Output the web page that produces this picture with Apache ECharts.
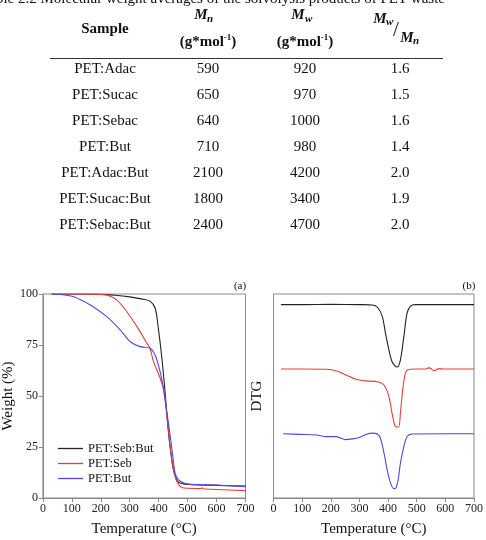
<!DOCTYPE html>
<html>
<head>
<meta charset="utf-8">
<script src="https://cdn.jsdelivr.net/npm/echarts@6/dist/echarts.min.js"></script>
<style>
html,body{margin:0;padding:0;background:#fff;}
#main{width:486px;height:540px;}
</style>
</head>
<body>
<div id="main"></div>
<script>
// table values
var tableTitle = 'Table 2.2 Molecular weight averages of the solvolysis products of PET waste';
var sampleNames = ['PET:Adac', 'PET:Sucac', 'PET:Sebac', 'PET:But', 'PET:Adac:But', 'PET:Sucac:But', 'PET:Sebac:But'];
var mnValues = ['590', '650', '640', '710', '2100', '1800', '2400'];
var mwValues = ['920', '970', '1000', '980', '4200', '3400', '4700'];
var pdiValues = ['1.6', '1.5', '1.6', '1.4', '2.0', '1.9', '2.0'];

// TGA (a)
var tgaNames = ['PET:Seb:But', 'PET:Seb', 'PET:But'];
var tgaSebButT = [30, 100, 150, 200, 250, 300, 340, 370, 388, 399, 411, 422, 432, 442, 452, 462, 472, 490, 520, 600, 700];
var tgaSebButW = [100, 100, 100, 99.8, 99.4, 98.6, 97.6, 96.5, 93, 83, 68.6, 52, 35, 22, 13, 9, 7.5, 6.8, 6.5, 6.2, 5.8];
var tgaSebT = [30, 100, 150, 200, 221, 256, 290, 325, 359, 370, 382, 405, 419, 430, 440, 450, 460, 470, 480, 500, 545, 550, 555, 600, 700];
var tgaSebW = [100, 100, 100, 99.8, 99.5, 97, 91.3, 84, 76, 73.4, 67, 58.8, 52, 38, 25, 15, 9, 6.4, 5.2, 4.8, 4.6, 5, 4.5, 4.2, 3.6];
var tgaButT = [30, 60, 107, 164, 221, 267, 302, 336, 370, 388, 405, 416, 425, 434, 449, 457, 468, 480, 500, 600, 700];
var tgaButW = [100, 99.8, 98.7, 94.6, 88.9, 82.4, 76.6, 74.2, 73.4, 70, 62, 54, 45, 36.6, 20.3, 12.1, 9, 7.8, 6.8, 6.3, 5.6];

// DTG (b), curves stacked with offsets (arbitrary units)
var dtgSebButT = [26, 100, 200, 300, 345, 363, 380, 391, 403, 414, 424, 432, 443, 455, 466, 478, 495, 600, 700];
var dtgSebButV = [94.8, 94.8, 94.9, 94.8, 94.6, 93.5, 88.9, 80.7, 72.5, 66.8, 64.8, 64.2, 67.6, 79, 90.5, 94.1, 94.8, 94.8, 94.8];
var dtgSebT = [26, 100, 184, 219, 253, 288, 322, 363, 386, 403, 414, 426, 437, 443, 451, 460, 472, 500, 530, 541, 550, 558, 566, 576, 600, 700];
var dtgSebV = [63.2, 63.2, 63.1, 62.4, 60.3, 58.2, 57.4, 57, 55.4, 49.7, 41.5, 35, 34.8, 41.5, 52.9, 61, 63, 63.2, 63.2, 63.8, 63.5, 62.4, 62.6, 63.4, 63.2, 63.2];
var dtgButT = [34, 92, 150, 184, 219, 236, 253, 276, 299, 322, 345, 363, 374, 386, 397, 409, 420, 426, 435, 443, 455, 466, 484, 600, 700];
var dtgButV = [31.5, 31.2, 30.9, 30.1, 30.1, 29.3, 28.6, 29, 29.7, 31.1, 31.8, 31.4, 29, 21.9, 13.7, 7.2, 4.6, 4.7, 8.8, 17, 25.2, 30, 31.4, 31.5, 31.5];

var colors = ['#222222', '#ee3a3a', '#4a4ae8'];
var serif = '"Liberation Serif", "Times New Roman", serif';

function pairs(xs, ys) {
	var out = [];
	for (var i = 0; i < xs.length; i++) out.push([xs[i], ys[i]]);
	return out;
}

function txt(x, y, s, size, opts) {
	opts = opts || {};
	return {
		type: 'text', x: x, y: y, silent: true,
		style: {
			text: s, fontSize: size, fontFamily: serif,
			fontWeight: opts.bold ? 'bold' : 'normal',
			fontStyle: opts.italic ? 'italic' : 'normal',
			fill: '#111',
			align: opts.align || 'center', textAlign: opts.align || 'center',
			verticalAlign: 'middle', textVerticalAlign: 'middle',
			rich: opts.rich
		}
	};
}

// table drawn as graphic text
var colX = [105, 208, 305, 400];
var rowY0 = 69, rowH = 26;
var graphics = [];
graphics.push(txt(445, -1, tableTitle, 15, {align: 'right'}));
graphics.push(txt(colX[0], 29, 'Sample', 15, {bold: true}));
// M_n and M_w headers
graphics.push(txt(201, 15, 'M', 15, {bold: true, italic: true}));
graphics.push(txt(207, 19, 'n', 11, {bold: true, italic: true, align: 'left'}));
graphics.push(txt(298, 15, 'M', 15, {bold: true, italic: true}));
graphics.push(txt(305, 19, 'w', 11, {bold: true, italic: true, align: 'left'}));
var unitRich = {
	a: {fontSize: 15, fontWeight: 'bold', fontFamily: serif, fill: '#111', lineHeight: 18},
	s: {fontSize: 9, fontWeight: 'bold', fontFamily: serif, fill: '#111', lineHeight: 10, verticalAlign: 'top'}
};
graphics.push(txt(colX[1], 42, '{a|(g*mol}{s|-1}{a|)}', 15, {rich: unitRich}));
graphics.push(txt(colX[2], 42, '{a|(g*mol}{s|-1}{a|)}', 15, {rich: unitRich}));
// Mw / Mn
graphics.push(txt(380, 19, 'M', 15, {bold: true, italic: true}));
graphics.push(txt(386, 22, 'w', 11, {bold: true, italic: true, align: 'left'}));
graphics.push(txt(396, 30, '/', 21, {}));
graphics.push(txt(407, 38, 'M', 15, {bold: true, italic: true}));
graphics.push(txt(413, 41, 'n', 11, {bold: true, italic: true, align: 'left'}));
graphics.push({
	type: 'line', silent: true,
	shape: {x1: 50, y1: 58.5, x2: 443, y2: 58.5},
	style: {stroke: '#333', lineWidth: 1}
});
for (var r = 0; r < sampleNames.length; r++) {
	var yy = rowY0 + r * rowH;
	graphics.push(txt(colX[0], yy, sampleNames[r], 15));
	graphics.push(txt(colX[1], yy, mnValues[r], 15));
	graphics.push(txt(colX[2], yy, mwValues[r], 15));
	graphics.push(txt(colX[3], yy, pdiValues[r], 15));
}
graphics.push(txt(240, 286, '(a)', 11));
graphics.push(txt(469, 286, '(b)', 11));

var axisGrey = '#8a8a8a';
function xAxisCfg(idx) {
	return {
		type: 'value', gridIndex: idx, min: 0, max: 700, interval: 100,
		name: 'Temperature (\u00b0C)', nameLocation: 'middle', nameGap: 24,
		nameTextStyle: {fontFamily: serif, fontSize: 15, color: '#111'},
		axisLine: {show: true, lineStyle: {color: axisGrey, width: 1}},
		axisTick: {show: true, length: 4, lineStyle: {color: axisGrey}},
		axisLabel: {fontFamily: serif, fontSize: 12, color: '#222', margin: 5},
		splitLine: {show: false}
	};
}

var myChart = echarts.init(document.getElementById('main'));
var option = {
	backgroundColor: '#fff',
	animation: false,
	graphic: graphics,
	grid: [
		{left: 42, right: 240.5, top: 294, bottom: 42, show: true, borderColor: axisGrey, borderWidth: 1},
		{left: 273.5, right: 10, top: 294, bottom: 42, show: true, borderColor: axisGrey, borderWidth: 1}
	],
	legend: {
		data: tgaNames,
		orient: 'vertical', left: 53, top: 437,
		icon: 'rect',
		itemWidth: 25, itemHeight: 1.3, itemGap: 2,
		textStyle: {fontFamily: serif, fontSize: 12.5, color: '#111', lineHeight: 12}
	},
	xAxis: [xAxisCfg(0), xAxisCfg(1)],
	yAxis: [
		{
			type: 'value', gridIndex: 0, min: 0, max: 100, interval: 25,
			name: 'Weight (%)', nameLocation: 'middle', nameGap: 26,
			nameTextStyle: {fontFamily: serif, fontSize: 15, color: '#111'},
			axisLine: {show: true, lineStyle: {color: axisGrey, width: 1}},
			axisTick: {show: true, length: 4, lineStyle: {color: axisGrey}},
			axisLabel: {fontFamily: serif, fontSize: 12, color: '#222', margin: 5},
			splitLine: {show: false}
		},
		{
			type: 'value', gridIndex: 1, min: 0, max: 100,
			name: 'DTG', nameLocation: 'middle', nameGap: 9,
			nameTextStyle: {fontFamily: serif, fontSize: 15, color: '#111'},
			axisLine: {show: true, lineStyle: {color: axisGrey, width: 1}},
			axisTick: {show: false}, axisLabel: {show: false},
			splitLine: {show: false}
		}
	],
	series: [
		{name: tgaNames[0], type: 'line', xAxisIndex: 0, yAxisIndex: 0, data: pairs(tgaSebButT, tgaSebButW)},
		{name: tgaNames[1], type: 'line', xAxisIndex: 0, yAxisIndex: 0, data: pairs(tgaSebT, tgaSebW)},
		{name: tgaNames[2], type: 'line', xAxisIndex: 0, yAxisIndex: 0, data: pairs(tgaButT, tgaButW)},
		{name: 'DTG ' + tgaNames[0], type: 'line', xAxisIndex: 1, yAxisIndex: 1, data: pairs(dtgSebButT, dtgSebButV)},
		{name: 'DTG ' + tgaNames[1], type: 'line', xAxisIndex: 1, yAxisIndex: 1, data: pairs(dtgSebT, dtgSebV)},
		{name: 'DTG ' + tgaNames[2], type: 'line', xAxisIndex: 1, yAxisIndex: 1, data: pairs(dtgButT, dtgButV)}
	]
};
// shared line look
option.series.forEach(function(s, i) {
	s.smooth = 0.3;
	s.symbol = 'none';
	s.color = colors[i % 3];
	s.lineStyle = {width: 1.1, color: colors[i % 3]};
});
myChart.setOption(option);
</script>
</body>
</html>
